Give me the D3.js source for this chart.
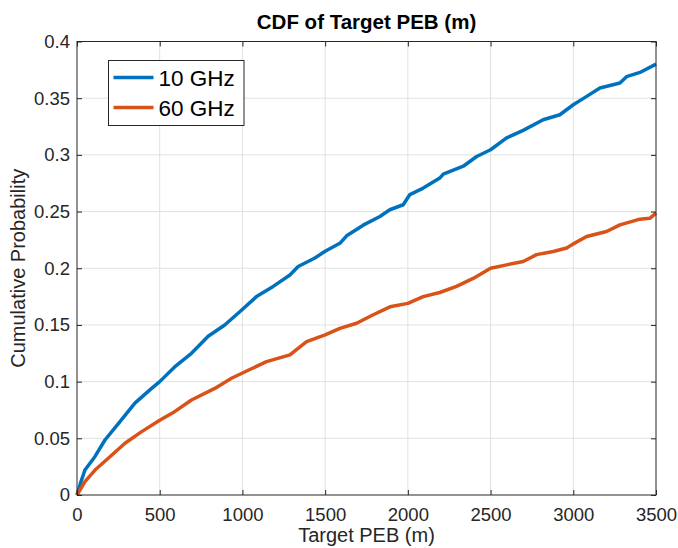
<!DOCTYPE html>
<html>
<head>
<meta charset="utf-8">
<script src="https://cdn.jsdelivr.net/npm/d3@7"></script>
<style>
  body { margin: 0; background: #fff; }
  text { font-family: "Liberation Sans", Arial, Helvetica, sans-serif; fill: #262626; }
</style>
</head>
<body>
<div class="plotSVG"></div>
<script>
//Chart data
var pebTicks = [0, 500, 1000, 1500, 2000, 2500, 3000, 3500];
var probTicks = [0, 0.05, 0.1, 0.15, 0.2, 0.25, 0.3, 0.35, 0.4];
var seriesNames = ["10 GHz", "60 GHz"];
var seriesColors = ["#0072BD", "#D95319"];

var peb10 = [0, 20, 48, 109, 169, 250, 350, 451, 500, 590, 692, 793, 893, 994, 1085, 1186, 1287, 1337,
  1438, 1500, 1589, 1630, 1730, 1831, 1891, 1972, 2012, 2093, 2193, 2214, 2335, 2416, 2500, 2597,
  2697, 2818, 2919, 3000, 3081, 3161, 3282, 3322, 3403, 3500];
var cdf10 = [0, 0.010, 0.022, 0.034, 0.0485, 0.063, 0.081, 0.094, 0.100, 0.113, 0.125, 0.140, 0.150,
  0.163, 0.175, 0.184, 0.194, 0.2015, 0.209, 0.215, 0.222, 0.2286, 0.238, 0.2457, 0.2516, 0.256,
  0.265, 0.2707, 0.2795, 0.283, 0.290, 0.2986, 0.3045, 0.315, 0.3216, 0.331, 0.3354, 0.3442, 0.3516,
  0.359, 0.3634, 0.369, 0.3727, 0.380];

var peb60 = [0, 48, 109, 189, 290, 391, 500, 590, 692, 833, 934, 1035, 1146, 1287, 1388, 1500, 1589,
  1690, 1791, 1892, 2000, 2093, 2193, 2294, 2395, 2500, 2597, 2697, 2778, 2879, 2960, 3000, 3081,
  3201, 3282, 3403, 3464, 3500];
var cdf60 = [0, 0.0118, 0.022, 0.0324, 0.0456, 0.0559, 0.066, 0.0735, 0.0838, 0.094, 0.103, 0.110,
  0.1177, 0.1236, 0.1353, 0.1412, 0.147, 0.1515, 0.159, 0.166, 0.169, 0.175, 0.1786, 0.184, 0.191,
  0.200, 0.203, 0.206, 0.212, 0.2148, 0.2178, 0.2215, 0.228, 0.2324, 0.2383, 0.2433, 0.2442, 0.2486];

//Setup SVG size vars
var margin = { top: 41.5, right: 22, bottom: 53, left: 77 },
  width = 678 - margin.left - margin.right,
  height = 548 - margin.top - margin.bottom;

var svg = d3.select(".plotSVG")
  .append("svg")
  .attr("width", 678)
  .attr("height", 548);

var plot = svg.append("g")
  .attr("transform", "translate(" + margin.left + "," + margin.top + ")");

var x = d3.scaleLinear().domain([0, 3500]).range([0, width]);
var y = d3.scaleLinear().domain([0, 0.4]).range([height, 0]);

//Grid lines
plot.append("g").selectAll("line")
  .data(pebTicks.slice(1, -1))
  .enter().append("line")
  .attr("x1", d => x(d)).attr("x2", d => x(d))
  .attr("y1", 0).attr("y2", height)
  .style("stroke", "#e1e1e1").style("stroke-width", 1);

plot.append("g").selectAll("line")
  .data(probTicks.slice(1, -1))
  .enter().append("line")
  .attr("x1", 0).attr("x2", width)
  .attr("y1", d => y(d)).attr("y2", d => y(d))
  .style("stroke", "#e1e1e1").style("stroke-width", 1);

//Series lines
var series = [
  peb10.map((d, i) => [d, cdf10[i]]),
  peb60.map((d, i) => [d, cdf60[i]])
];

var line = d3.line()
  .x(d => x(d[0]))
  .y(d => y(d[1]));

plot.selectAll(".series")
  .data(series)
  .enter().append("path")
  .attr("class", "series")
  .attr("d", line)
  .style("fill", "none")
  .style("stroke", (d, i) => seriesColors[i])
  .style("stroke-width", 3.5)
  .style("stroke-linejoin", "round");

//Axes, ticks inside like matlab
function styleAxis(g) {
  g.select(".domain").remove();
  g.selectAll(".tick line").style("stroke", "#262626");
  g.selectAll(".tick text")
    .style("font-size", "18.5px")
    .style("fill", "#262626")
    .style("font-family", "'Liberation Sans', Arial, sans-serif");
}

plot.append("g")
  .attr("transform", "translate(0," + height + ")")
  .call(d3.axisBottom(x).tickValues(pebTicks).tickFormat(d3.format("d")).tickSizeInner(-5).tickPadding(13))
  .call(styleAxis);

plot.append("g")
  .call(d3.axisLeft(y).tickValues(probTicks).tickFormat(d => d === 0 ? "0" : d3.format("")(d)).tickSizeInner(-5).tickPadding(7))
  .call(styleAxis);

plot.append("g")
  .call(d3.axisTop(x).tickValues(pebTicks).tickSizeInner(-5).tickFormat(""))
  .call(styleAxis);

plot.append("g")
  .attr("transform", "translate(" + width + ",0)")
  .call(d3.axisRight(y).tickValues(probTicks).tickSizeInner(-5).tickFormat(""))
  .call(styleAxis);

//Box
plot.append("rect")
  .attr("width", width)
  .attr("height", height)
  .style("fill", "none")
  .style("stroke", "#262626")
  .style("stroke-width", 1);

//Title and labels
svg.append("text")
  .attr("x", margin.left + width / 2)
  .attr("y", 28.5)
  .attr("text-anchor", "middle")
  .style("font-size", "20.5px")
  .style("font-weight", "bold")
  .style("fill", "#000")
  .text("CDF of Target PEB (m)");

svg.append("text")
  .attr("x", margin.left + width / 2)
  .attr("y", 542)
  .attr("text-anchor", "middle")
  .style("font-size", "20px")
  .text("Target PEB (m)");

svg.append("text")
  .attr("transform", "translate(25," + (margin.top + height / 2) + ") rotate(-90)")
  .attr("text-anchor", "middle")
  .style("font-size", "20px")
  .text("Cumulative Probability");

//Legend
var legend = svg.append("g")
  .attr("transform", "translate(108.5,60.5)");

legend.append("rect")
  .attr("width", 135.5)
  .attr("height", 65)
  .style("fill", "#fff")
  .style("stroke", "#262626")
  .style("stroke-width", 1);

var legendItem = legend.selectAll(".legendItem")
  .data(seriesNames)
  .enter().append("g")
  .attr("class", "legendItem")
  .attr("transform", (d, i) => "translate(0," + (17 + i * 30) + ")");

legendItem.append("line")
  .attr("x1", 5).attr("x2", 45)
  .style("stroke", (d, i) => seriesColors[i])
  .style("stroke-width", 3.5);

legendItem.append("text")
  .attr("x", 50)
  .attr("dy", ".36em")
  .style("font-size", "22.5px")
  .style("fill", "#000")
  .text(d => d);
</script>
</body>
</html>
